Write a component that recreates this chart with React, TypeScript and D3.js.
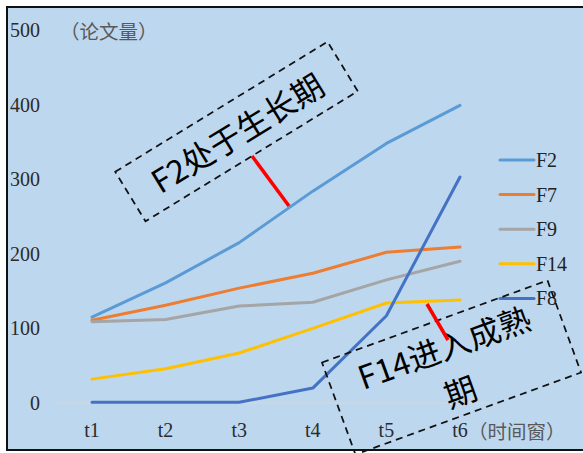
import React from "react";
import * as d3 from "d3";

const categories = ["t1", "t2", "t3", "t4", "t5", "t6"];
const seriesNames = ["F2", "F7", "F9", "F14", "F8"];
const F2 = [115, 161, 215, 284, 348, 399];
const F7 = [111, 131, 154, 174, 202, 209];
const F9 = [109, 112, 130, 135, 165, 190];
const F14 = [32, 46, 67, 100, 134, 138];
const F8 = [1, 1, 1, 20, 117, 303];
const seriesValues = [F2, F7, F9, F14, F8];
const seriesColors = ["#5B9BD5", "#ED7D31", "#A5A5A5", "#FFC000", "#4472C4"];
const yTicks = [0, 100, 200, 300, 400, 500];

const W = 583;
const H = 453;

export default function App() {
  const x = d3.scalePoint<string>().domain(categories).range([92, 460]);
  const y = d3.scaleLinear().domain([0, 500]).range([403, 30]);
  const line = d3
    .line<number>()
    .x((_, i) => x(categories[i]) as number)
    .y((d) => y(d));

  const serif = "'Liberation Serif', 'DejaVu Serif', serif";
  const cjk = "'Noto Sans CJK SC', 'Noto Sans', sans-serif";

  return (
    <svg
      width={W}
      height={H}
      style={{ position: "absolute", left: 0, top: 0 }}
      xmlns="http://www.w3.org/2000/svg"
    >
      <rect x={0} y={0} width={W} height={H} fill="#ffffff" />
      <rect x={7} y={7} width={W + 10} height={443} fill="#BDD7EE" stroke="#111" strokeWidth={2} />

      {/* zero gridline */}
      <line x1={57} x2={490} y1={y(0)} y2={y(0)} stroke="#D9D9D9" strokeWidth={1} />

      {/* y tick labels */}
      {yTicks.map((t) => (
        <text
          key={t}
          x={40}
          y={y(t)}
          textAnchor="end"
          dominantBaseline="central"
          fontFamily={serif}
          fontSize={20}
          fill="#2b2b2b"
        >
          {t}
        </text>
      ))}
      <text x={60} y={y(500)} dominantBaseline="central" fontFamily={cjk} fontSize={19.5} fill="#595959">
        （论文量）
      </text>

      {/* x tick labels */}
      {categories.map((c) => (
        <text
          key={c}
          x={x(c)}
          y={430}
          textAnchor="middle"
          dominantBaseline="central"
          fontFamily={serif}
          fontSize={20}
          fill="#2b2b2b"
        >
          {c}
        </text>
      ))}
      <text x={468} y={430} dominantBaseline="central" fontFamily={cjk} fontSize={19.5} fill="#595959">
        （时间窗）
      </text>

      {/* series */}
      {seriesValues.map((vals, i) => (
        <path
          key={seriesNames[i]}
          d={line(vals) || ""}
          fill="none"
          stroke={seriesColors[i]}
          strokeWidth={3}
          strokeLinejoin="round"
          strokeLinecap="round"
        />
      ))}

      {/* legend */}
      {seriesNames.map((n, i) => (
        <g key={n} transform={`translate(500, ${160 + i * 34.6})`}>
          <line x1={0} x2={34} y1={0} y2={0} stroke={seriesColors[i]} strokeWidth={3} strokeLinecap="round" />
          <text x={36} y={0} dominantBaseline="central" fontFamily={serif} fontSize={20} fill="#222">
            {n}
          </text>
        </g>
      ))}

      {/* annotation 1 */}
      <g transform="translate(236.5,131.5) rotate(-31.5)">
        <rect x={-124.5} y={-29} width={249} height={58} fill="none" stroke="#111" strokeWidth={1.75} strokeDasharray="7,5" />
        <text x={0} y={0} textAnchor="middle" dominantBaseline="central" fontFamily={cjk} fontSize={32} fill="#000">
          F2处于生长期
        </text>
      </g>
      <line x1={252} y1={156} x2={289} y2={206} stroke="#FF0000" strokeWidth={3.5} />

      {/* annotation 2 */}
      <g transform="translate(451.5,367.5) rotate(-20)">
        <rect x={-120} y={-49} width={240} height={98} fill="none" stroke="#111" strokeWidth={1.75} strokeDasharray="7,5" />
        <text x={0} y={-23} textAnchor="middle" dominantBaseline="central" fontFamily={cjk} fontSize={32} fill="#000">
          F14进入成熟
        </text>
        <text x={0} y={24} textAnchor="middle" dominantBaseline="central" fontFamily={cjk} fontSize={32} fill="#000">
          期
        </text>
      </g>
      <line x1={427} y1={304} x2={448} y2={340} stroke="#FF0000" strokeWidth={3.5} />
    </svg>
  );
}
